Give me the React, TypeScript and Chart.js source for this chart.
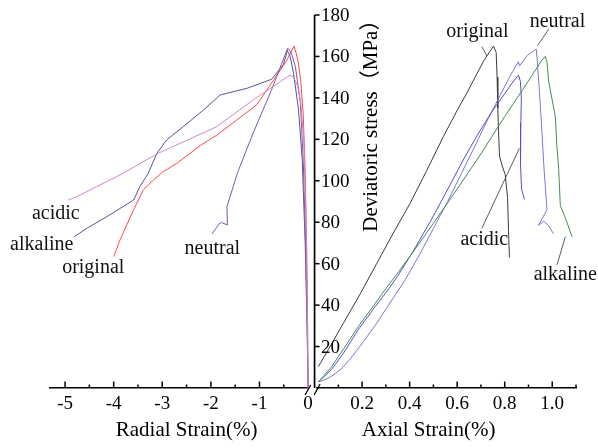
import React, { useEffect, useRef } from "react";
import { Chart, registerables } from "chart.js";

Chart.register(...registerables);

const FONT = "'Liberation Serif', 'Times New Roman', 'Noto Sans CJK SC', serif";

// ---------- Left panel: radial strain (%) vs deviatoric stress (MPa) ----------
const radialOriginalStrain = [0, -0.01, -0.03, -0.06, -0.1, -0.15, -0.2, -0.25, -0.29, -0.44, -0.71, -1.06, -1.47, -1.88, -2.22, -2.7, -2.98, -3.18, -3.39, -3.59, -3.87, -4.0];
const radialOriginalStress = [0, 30, 70, 105, 132, 148, 157, 162, 165, 158, 148.6, 136.6, 129.3, 122, 117, 108.4, 104.4, 100.4, 95.6, 86, 71.4, 63.4];

const radialAlkalineStrain = [0, -0.02, -0.06, -0.12, -0.2, -0.3, -0.37, -0.43, -0.45, -0.51, -0.75, -1.26, -1.81, -2.15, -2.57, -2.91, -3.11, -3.29, -3.46, -3.59, -4.14, -4.55, -4.81];
const radialAlkalineStress = [0, 30, 70, 110, 135, 152, 160, 163, 160.7, 156, 149, 144.6, 141.4, 134.2, 126.1, 119.7, 113.3, 103.6, 97.2, 90.7, 82.7, 77.1, 73];

const radialNeutralStrain = [0, -0.02, -0.05, -0.1, -0.16, -0.26, -0.35, -0.42, -0.75, -1.13, -1.45, -1.67, -1.66, -1.78, -1.82, -1.98];
const radialNeutralStress = [0, 30, 70, 110, 138, 155, 162, 164, 144, 123, 104, 87.5, 78.7, 79.8, 79.5, 74.3];

const radialAcidicStrain = [0, -0.01, -0.04, -0.09, -0.15, -0.22, -0.3, -0.37, -1.13, -1.88, -3.08, -3.87, -4.35, -4.69, -4.93];
const radialAcidicStress = [0, 30, 80, 120, 138, 146, 150, 151, 139, 126.1, 113.3, 102.8, 97.2, 93.1, 90.7];

// ---------- Right panel: axial strain (%) vs deviatoric stress (MPa) ----------
const axialOriginalStrain = [0.016, 0.06, 0.121, 0.19, 0.262, 0.33, 0.402, 0.47, 0.542, 0.6, 0.64, 0.68, 0.71, 0.735, 0.753, 0.764, 0.768, 0.771, 0.774, 0.778, 0.79, 0.802, 0.812, 0.816, 0.82];
const axialOriginalStress = [10.3, 19, 31.2, 45, 60.2, 74.5, 89.1, 104.5, 121.3, 134, 142.2, 151, 157.5, 162, 165, 162, 150, 135, 124, 112, 107, 103, 92, 76, 63];

const axialNeutralStrain = [0.016, 0.04, 0.07, 0.107, 0.15, 0.2, 0.26, 0.32, 0.38, 0.44, 0.5, 0.56, 0.62, 0.68, 0.73, 0.78, 0.82, 0.858, 0.862, 0.895, 0.933, 0.937, 0.945, 0.956, 0.966, 0.978, 0.942, 0.963, 0.984, 1.005];
const axialNeutralStress = [3, 3.8, 5.6, 8.7, 14, 21.5, 31, 41.5, 52, 64, 77, 90, 104, 118, 130, 141, 150, 157.5, 155.4, 160.5, 163.5, 158, 145, 125, 105, 86, 78.5, 80.5, 78.5, 74.5];

const axialAcidicStrain = [0.016, 0.04, 0.072, 0.12, 0.183, 0.25, 0.3, 0.35, 0.42, 0.5, 0.57, 0.63, 0.69, 0.75, 0.8, 0.83, 0.858, 0.866, 0.87, 0.868, 0.866, 0.867, 0.871, 0.883];
const axialAcidicStress = [3, 5.5, 9, 16.5, 28, 38.5, 46, 54, 67, 83, 98, 111, 123, 134, 142, 147, 151, 148, 140, 128, 118, 108, 96, 91];

const axialAlkalineStrain = [0.016, 0.04, 0.07, 0.12, 0.18, 0.25, 0.3, 0.35, 0.42, 0.5, 0.6, 0.7, 0.8, 0.87, 0.93, 0.955, 0.971, 0.978, 0.985, 0.998, 1.013, 1.02, 1.027, 1.034, 1.045, 1.062, 1.083];
const axialAlkalineStress = [3, 6, 10, 18.5, 29, 40, 48, 55.5, 66.5, 79.5, 96, 113, 131, 143, 153.5, 158, 160, 157, 148, 140, 131, 116, 106, 88, 85, 80, 73];

// ---------- Axes ----------
const RADIAL_TICKS = [-5, -4, -3, -2, -1, 0];
const RADIAL_MINOR = [-4.5, -3.5, -2.5, -1.5, -0.5];
const AXIAL_TICKS = [0.2, 0.4, 0.6, 0.8, 1.0];
const AXIAL_MINOR = [0.1, 0.3, 0.5, 0.7, 0.9, 1.1];
const STRESS_TICKS = [20, 40, 60, 80, 100, 120, 140, 160, 180];

const RADIAL_TITLE = "Radial Strain(%)";
const AXIAL_TITLE = "Axial Strain(%)";
const STRESS_TITLE = "Deviatoric stress（MPa）";

// Curve annotations (text, scale, x value, stress value)
const CURVE_LABELS = [
  { text: "acidic", axis: "xr", x: -5.19, y: 84.3 },
  { text: "alkaline", axis: "xr", x: -5.48, y: 69 },
  { text: "original", axis: "xr", x: -4.42, y: 57.8 },
  { text: "neutral", axis: "xr", x: -1.97, y: 67.1 },
  { text: "original", axis: "xa", x: 0.685, y: 171.7 },
  { text: "neutral", axis: "xa", x: 1.022, y: 176.8 },
  { text: "acidic", axis: "xa", x: 0.714, y: 71.4 },
  { text: "alkaline", axis: "xa", x: 1.055, y: 54.5 },
];
const LEADERS = [
  { x1: 0.704, y1: 164.7, x2: 0.725, y2: 160.2 },
  { x1: 0.985, y1: 173.1, x2: 0.938, y2: 165.2 },
  { x1: 0.704, y1: 77.1, x2: 0.862, y2: 115.7 },
  { x1: 1.02, y1: 59.4, x2: 1.055, y2: 73 },
];

const pts = (xs: number[], ys: number[]) => xs.map((x, i) => ({ x, y: ys[i] }));

const decor = {
  id: "decor",
  afterDraw(chart: any) {
    const ctx = chart.ctx as CanvasRenderingContext2D;
    const xr = chart.scales.xr;
    const xa = chart.scales.xa;
    const y = chart.scales.y;
    const axisY = y.getPixelForValue(0);
    const x0r = xr.getPixelForValue(0);
    const x0a = xa.getPixelForValue(0);
    ctx.save();
    ctx.strokeStyle = "#000";
    ctx.fillStyle = "#000";
    ctx.lineWidth = 1.5;
    const tick = (px: number, len: number) => {
      ctx.beginPath();
      ctx.moveTo(px, axisY);
      ctx.lineTo(px, axisY - len);
      ctx.stroke();
    };
    RADIAL_TICKS.filter((v) => v !== 0).forEach((v) => tick(xr.getPixelForValue(v), 6.5));
    RADIAL_MINOR.forEach((v) => tick(xr.getPixelForValue(v), 3.5));
    AXIAL_TICKS.forEach((v) => tick(xa.getPixelForValue(v), 6.5));
    AXIAL_MINOR.forEach((v) => tick(xa.getPixelForValue(v), 3.5));

    // axis break gap
    ctx.fillStyle = "#fff";
    ctx.fillRect(x0r + 1, axisY - 2, 7, 4.5);

    // y axis in the middle
    ctx.fillStyle = "#000";
    ctx.lineWidth = 1.7;
    ctx.beginPath();
    ctx.moveTo(x0a, axisY);
    ctx.lineTo(x0a, y.getPixelForValue(180));
    ctx.stroke();
    ctx.lineWidth = 1.5;
    ctx.font = `19px ${FONT}`;
    ctx.textAlign = "left";
    ctx.textBaseline = "middle";
    STRESS_TICKS.forEach((v) => {
      const py = y.getPixelForValue(v);
      ctx.beginPath();
      ctx.moveTo(x0a, py);
      ctx.lineTo(x0a + 5, py);
      ctx.stroke();
      ctx.fillText(String(v), x0a + 6.5, py + 1);
    });

    // y title
    ctx.save();
    ctx.translate(x0a + 57, y.getPixelForValue(129));
    ctx.rotate(-Math.PI / 2);
    ctx.font = `21px ${FONT}`;
    ctx.textAlign = "center";
    ctx.textBaseline = "middle";
    ctx.fillText(STRESS_TITLE, 0, 0);
    ctx.restore();

    // break slashes
    ctx.lineWidth = 1.3;
    ctx.beginPath();
    ctx.moveTo(x0r - 3, axisY + 7);
    ctx.lineTo(x0r + 2.7, axisY - 3);
    ctx.moveTo(x0r + 6, axisY + 7);
    ctx.lineTo(x0r + 12, axisY - 4);
    ctx.stroke();

    // x titles
    ctx.font = `21px ${FONT}`;
    ctx.textAlign = "center";
    ctx.textBaseline = "middle";
    ctx.fillText(RADIAL_TITLE, xr.getPixelForValue(-2.5), axisY + 42);
    ctx.fillText(AXIAL_TITLE, xa.getPixelForValue(0.48), axisY + 42);

    // leaders
    ctx.strokeStyle = "#333";
    ctx.lineWidth = 0.8;
    LEADERS.forEach((l) => {
      ctx.beginPath();
      ctx.moveTo(xa.getPixelForValue(l.x1), y.getPixelForValue(l.y1));
      ctx.lineTo(xa.getPixelForValue(l.x2), y.getPixelForValue(l.y2));
      ctx.stroke();
    });

    // curve labels
    ctx.font = `20px ${FONT}`;
    ctx.fillStyle = "#111";
    CURVE_LABELS.forEach((l) => {
      const sc = chart.scales[l.axis];
      ctx.fillText(l.text, sc.getPixelForValue(l.x), y.getPixelForValue(l.y));
    });
    ctx.restore();
  },
};

const line = (data: { x: number; y: number }[], color: string, axis: string) => ({
  data,
  xAxisID: axis,
  yAxisID: "y",
  showLine: true,
  borderColor: color,
  backgroundColor: color,
  borderWidth: 1,
  pointRadius: 0,
  tension: 0,
  fill: false,
});

export default function App() {
  const ref = useRef<HTMLCanvasElement | null>(null);
  useEffect(() => {
    if (!ref.current) return;
    document.body.style.margin = "0";
    document.body.style.overflow = "hidden";
    const tickFont = { family: FONT, size: 19 };
    const chart = new Chart(ref.current, {
      type: "scatter",
      data: {
        datasets: [
          line(pts(axialAlkalineStrain, axialAlkalineStress), "#3e8e50", "xa"),
          line(pts(axialAcidicStrain, axialAcidicStress), "#5050c8", "xa"),
          line(pts(axialNeutralStrain, axialNeutralStress), "#7c74d8", "xa"),
          line(pts(axialOriginalStrain, axialOriginalStress), "#3a3a3a", "xa"),
          line(pts(radialAcidicStrain, radialAcidicStress), "#cc88cc", "xr"),
          line(pts(radialNeutralStrain, radialNeutralStress), "#7f56a8", "xr"),
          line(pts(radialAlkalineStrain, radialAlkalineStress), "#55558f", "xr"),
          line(pts(radialOriginalStrain, radialOriginalStress), "#ff4848", "xr"),
        ] as any,
      },
      options: {
        animation: false,
        responsive: false,
        devicePixelRatio: 1,
        layout: { padding: { left: 50, right: 22, top: 15, bottom: 0 } },
        plugins: { legend: { display: false }, tooltip: { enabled: false } },
        scales: {
          xr: {
            type: "linear",
            position: "bottom",
            stack: "strain",
            stackWeight: 261,
            weight: 0,
            min: -5.31,
            max: 0.06,
            bounds: "data",
            afterBuildTicks: (s: any) => {
              s.ticks = RADIAL_TICKS.map((v) => ({ value: v }));
            },
            afterFit: (s: any) => {
              s.height = 60;
            },
            ticks: {
              autoSkip: false,
              maxRotation: 0,
              minRotation: 0,
              padding: 5,
              color: "#000",
              font: tickFont,
              callback: (v: any) => String(v),
            },
            grid: { drawOnChartArea: false, drawTicks: false },
            border: { color: "#000", width: 1.6 },
          },
          xa: {
            type: "linear",
            position: "bottom",
            stack: "strain",
            stackWeight: 265,
            weight: 1,
            min: -0.015,
            max: 1.1,
            bounds: "data",
            afterBuildTicks: (s: any) => {
              s.ticks = AXIAL_TICKS.map((v) => ({ value: v }));
            },
            afterFit: (s: any) => {
              s.height = 60;
            },
            ticks: {
              autoSkip: false,
              maxRotation: 0,
              minRotation: 0,
              padding: 5,
              color: "#000",
              font: tickFont,
              callback: (v: any) => Number(v).toFixed(1),
            },
            grid: { drawOnChartArea: false, drawTicks: false },
            border: { color: "#000", width: 1.6 },
          },
          y: {
            type: "linear",
            display: false,
            min: 0,
            max: 180,
          },
        } as any,
      },
      plugins: [decor],
    });
    return () => chart.destroy();
  }, []);
  return (
    <div style={{ width: 598, height: 448 }}>
      <canvas ref={ref} width={598} height={448} style={{ display: "block" }} />
    </div>
  );
}
